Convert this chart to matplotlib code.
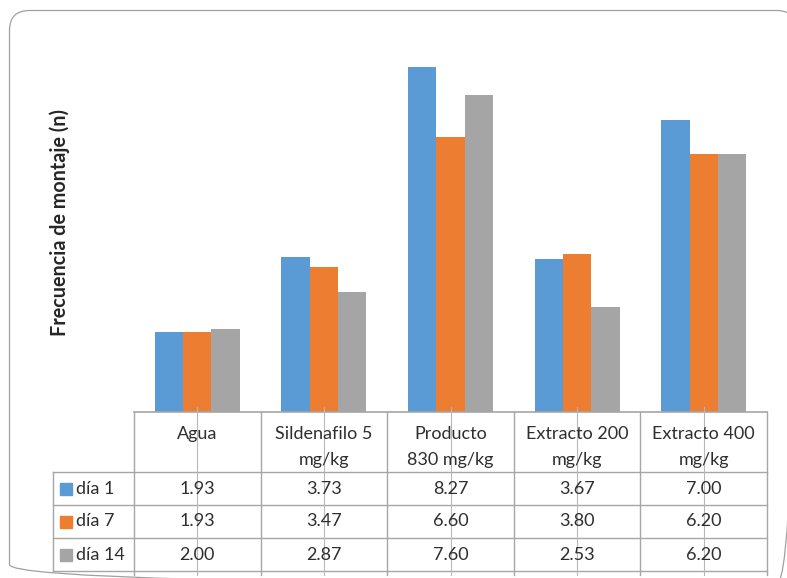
import matplotlib
matplotlib.use("Agg")
import matplotlib.pyplot as plt
from matplotlib.patches import FancyBboxPatch, Rectangle
import numpy as np

categories = ["Agua", "Sildenafilo 5\nmg/kg", "Producto\n830 mg/kg", "Extracto 200\nmg/kg", "Extracto 400\nmg/kg"]
series_names = ["día 1", "día 7", "día 14"]
dia1 = [1.93, 3.73, 8.27, 3.67, 7.00]
dia7 = [1.93, 3.47, 6.60, 3.80, 6.20]
dia14 = [2.00, 2.87, 7.60, 2.53, 6.20]
series = [dia1, dia7, dia14]
colors = ["#5B9BD5", "#ED7D31", "#A5A5A5"]
ylabel = "Frecuencia de montaje (n)"

plt.rcParams['font.family'] = ['Lato', 'DejaVu Sans']
W, H = 787, 578
fig = plt.figure(figsize=(W / 100, H / 100), dpi=100)

# layout in pixels
ax_left, ax_right, ax_base, ax_top = 134, 767, 412, 37
header_bottom = 472
row_h = 33
leg_left = 53
bottom_line = 575
text_col = "#2E2E2E"
grid_col = "#A6A6A6"
fs = 13

ax = fig.add_axes([ax_left / W, 1 - ax_base / H, (ax_right - ax_left) / W, (ax_base - ax_top) / H])
n = len(categories)
x = np.arange(n)
w = 0.224
for j, (vals, c) in enumerate(zip(series, colors)):
    ax.bar(x + (j - 1) * w, vals, width=w, color=c, label=series_names[j])
ax.set_xlim(-0.5, n - 0.5)
ax.set_ylim(0, 9)
ax.axis("off")

# overlay in pixel coordinates
ov = fig.add_axes([0, 0, 1, 1], zorder=-1)
ov.set_xlim(0, W)
ov.set_ylim(H, 0)
ov.axis("off")

border = FancyBboxPatch((9.5, 10.5), 787, 574, boxstyle="round,pad=0,rounding_size=20",
                        fill=False, ec="#A0A0A0", lw=0.9, clip_on=True)
ov.add_patch(border)

ov2 = fig.add_axes([0, 0, 1, 1], zorder=5)
ov2.set_xlim(0, W)
ov2.set_ylim(H, 0)
ov2.axis("off")

colw = (ax_right - ax_left) / n
bounds = [ax_left + i * colw for i in range(n + 1)]
centers = [ax_left + (i + 0.5) * colw for i in range(n)]
rows_y = [header_bottom + k * row_h for k in range(len(series) + 1)]

# horizontal lines
ov2.plot([ax_left, ax_right], [ax_base, ax_base], color=grid_col, lw=1.2)
for yy in rows_y:
    ov2.plot([leg_left, ax_right], [yy, yy], color=grid_col, lw=1.0)
# vertical lines
for bx in bounds:
    ov2.plot([bx, bx], [ax_base, bottom_line], color=grid_col, lw=1.0)
ov2.plot([leg_left, leg_left], [header_bottom, rows_y[-1]], color=grid_col, lw=1.0)
# category tick lines
for cx in centers:
    ov2.plot([cx, cx], [407, bottom_line], color="#B8B8B8", lw=0.8)

# header labels
for cx, lab in zip(centers, categories):
    for li, line in enumerate(lab.split("\n")):
        ov2.text(cx, 434 + 26 * li, line, ha="center", va="center", fontsize=fs, color=text_col)

# data rows
for k, (name, vals, c) in enumerate(zip(series_names, series, colors)):
    cy = (rows_y[k] + rows_y[k + 1]) / 2
    ov2.add_patch(Rectangle((60, cy - 6), 12, 12, color=c))
    ov2.text(76, cy, name, ha="left", va="center", fontsize=fs, color=text_col)
    for cx, v in zip(centers, vals):
        ov2.text(cx, cy, f"{v:.2f}", ha="center", va="center", fontsize=fs, color=text_col)

ov2.text(60, 223, ylabel, rotation=90, ha="center", va="center", fontsize=14.2,
         fontweight="bold", color="#262626")

fig.savefig("out.png", dpi=100)
